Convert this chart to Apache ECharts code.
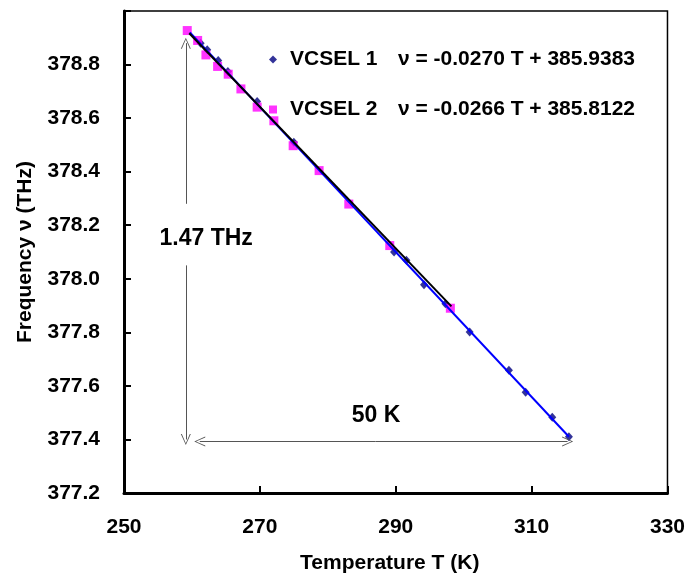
<!DOCTYPE html>
<html>
<head>
<meta charset="utf-8">
<script src="https://cdn.jsdelivr.net/npm/echarts@6/dist/echarts.min.js"></script>
<style>
  html, body { margin: 0; padding: 0; background: #fff; }
  #chart { width: 688px; height: 579px; }
</style>
</head>
<body>
<div id="chart"></div>
<script>
  // 测量数据 (T in K, frequency in THz)
  const vcsel1T = [261.28, 262.25, 263.87, 265.29, 269.60, 275.00, 289.75, 291.57, 294.16, 297.31, 300.88, 306.66, 309.12, 313.04, 315.49];
  const vcsel1F = [378.880, 378.855, 378.815, 378.774, 378.662, 378.510, 378.100, 378.069, 377.978, 377.907, 377.801, 377.658, 377.576, 377.483, 377.410];
  const vcsel2T = [259.31, 260.84, 262.06, 263.78, 265.34, 267.21, 269.60, 272.06, 274.90, 278.72, 283.09, 289.12, 298.04];
  const vcsel2F = [378.927, 378.890, 378.836, 378.793, 378.764, 378.709, 378.641, 378.590, 378.497, 378.404, 378.279, 378.124, 377.890];

  // 拟合直线端点
  const fit1 = [[259.7, 378.920], [315.5, 377.410]];
  const fit2 = [[259.6, 378.917], [298.2, 377.897]];

  const seriesNames = ["VCSEL 1", "VCSEL 2"];
  const equations = ["ν = -0.0270 T + 385.9383", "ν = -0.0266 T + 385.8122"];
  const yTicks = [377.2, 377.4, 377.6, 377.8, 378.0, 378.2, 378.4, 378.6, 378.8, 379.0];
  const xTicks = [250, 270, 290, 310, 330];

  const font = "'Liberation Sans', Arial, sans-serif";
  const chevron = "path://M5,0 L10,10 L9,10 L5,1.6 L1,10 L0,10 Z";
  const annoColor = "#555";

  const myChart = echarts.init(document.getElementById("chart"));

  const zip = (a, b) => a.map((v, i) => [v, b[i]]);

  const option = {
    animation: false,
    backgroundColor: "#fff",
    textStyle: { fontFamily: font },
    grid: {
      left: 124,
      right: 20,
      top: 11,
      bottom: 85.5,
      show: true,
      borderColor: "#000",
      borderWidth: 1.5,
      containLabel: false
    },
    legend: {
      orient: "vertical",
      left: 264,
      top: 44,
      itemGap: 29,
      itemWidth: 8,
      itemHeight: 8,
      data: [
        { name: seriesNames[0], icon: "diamond" },
        { name: seriesNames[1], icon: "rect" }
      ],
      formatter: (name) => "{a|" + name + "}{b|" + equations[seriesNames.indexOf(name)] + "}",
      textStyle: {
        fontFamily: font,
        fontWeight: "bold",
        fontSize: 21,
        color: "#000",
        rich: {
          a: { fontFamily: font, fontWeight: "bold", fontSize: 21, width: 108, padding: [0, 0, 0, 8], color: "#000" },
          b: { fontFamily: font, fontWeight: "bold", fontSize: 21, color: "#000" }
        }
      }
    },
    xAxis: {
      type: "value",
      min: xTicks[0],
      max: xTicks[xTicks.length - 1],
      interval: 20,
      name: "Temperature T (K)",
      nameLocation: "middle",
      nameGap: 60,
      nameTextStyle: { fontFamily: font, fontWeight: "bold", fontSize: 21, color: "#000", padding: [0, 12, 0, 0] },
      axisLine: { show: true, lineStyle: { color: "#000", width: 3 } },
      axisTick: { show: true, inside: true, length: 7, lineStyle: { color: "#000", width: 2 } },
      axisLabel: { margin: 24, fontFamily: font, fontWeight: "bold", fontSize: 21, color: "#000" },
      splitLine: { show: false }
    },
    yAxis: {
      type: "value",
      min: yTicks[0],
      max: yTicks[yTicks.length - 1],
      interval: 0.2,
      name: "Frequency ν (THz)",
      nameLocation: "middle",
      nameGap: 88,
      nameTextStyle: { fontFamily: font, fontWeight: "bold", fontSize: 21, color: "#000" },
      axisLine: { show: true, lineStyle: { color: "#000", width: 3 } },
      axisTick: { show: true, inside: true, length: 7, lineStyle: { color: "#000", width: 2 } },
      axisLabel: {
        margin: 24,
        fontFamily: font,
        fontWeight: "bold",
        fontSize: 21,
        color: "#000",
        formatter: (v) => (v >= 378.95 ? "" : v.toFixed(1))
      },
      splitLine: { show: false }
    },
    series: [
      {
        name: seriesNames[0],
        type: "scatter",
        symbol: "diamond",
        symbolSize: [8, 9],
        itemStyle: { color: "#000080" },
        z: 2,
        data: zip(vcsel1T, vcsel1F)
      },
      {
        name: seriesNames[1],
        type: "scatter",
        symbol: "rect",
        symbolSize: 9,
        itemStyle: { color: "#FF00FF" },
        z: 3,
        data: zip(vcsel2T, vcsel2F)
      },
      {
        name: "fit1",
        type: "line",
        symbol: "none",
        lineStyle: { color: "#0000FF", width: 2 },
        z: 4,
        data: fit1
      },
      {
        name: "fit2",
        type: "line",
        symbol: "none",
        lineStyle: { color: "#000", width: 2 },
        z: 5,
        data: fit2
      },
      {
        // 标注: 箭头与文字
        name: "anno",
        type: "line",
        data: [],
        z: 6,
        markLine: {
          silent: true,
          animation: false,
          symbol: ["none", chevron],
          symbolSize: [10, 11],
          label: { show: false },
          lineStyle: { color: annoColor, width: 1, type: "solid" },
          data: [
            [{ coord: [259.1, 378.28] }, { coord: [259.1, 378.88] }],
            [{ coord: [259.1, 378.05] }, { coord: [259.1, 377.40] }],
            [{ coord: [287, 377.392], symbol: "none" }, { coord: [315.3, 377.392] }],
            [{ coord: [287, 377.392], symbol: "none" }, { coord: [261.15, 377.392] }]
          ]
        },
        markPoint: {
          silent: true,
          symbol: "circle",
          symbolSize: 0,
          label: {
            show: true,
            fontFamily: font,
            fontWeight: "bold",
            fontSize: 23,
            color: "#000",
            position: "inside",
            formatter: (p) => p.name
          },
          data: [
            { name: "1.47 THz", coord: [262.1, 378.15] },
            { name: "50 K", coord: [287.1, 377.49] }
          ]
        }
      }
    ]
  };

  myChart.setOption(option);
</script>
</body>
</html>
